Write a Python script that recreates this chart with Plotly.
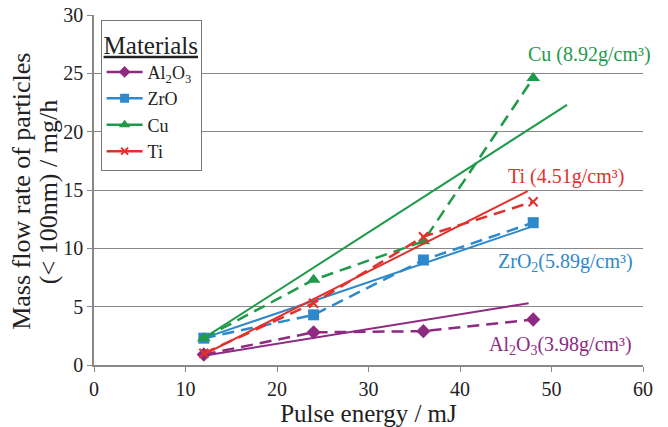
import plotly.graph_objects as go

energy = [12, 24, 36, 48]
al2o3 = [0.9, 2.8, 2.9, 3.9]
zro = [2.3, 4.3, 9.0, 12.2]
cu = [2.3, 7.3, 10.6, 24.6]
ti = [1.0, 5.3, 11.0, 14.0]

# straight trend lines (start / end points)
al2o3_fit_x = [12, 47.5]
al2o3_fit_y = [0.8, 5.3]
zro_fit_x = [12, 48]
zro_fit_y = [2.3, 11.9]
cu_fit_x = [12, 51.7]
cu_fit_y = [2.3, 22.3]
ti_fit_x = [12, 47.4]
ti_fit_y = [0.9, 14.9]

names = ["Al<sub>2</sub>O<sub>3</sub>", "ZrO", "Cu", "Ti"]
labels = ["Al<sub>2</sub>O<sub>3</sub>(3.98g/cm³)", "ZrO<sub>2</sub>(5.89g/cm³)",
          "Cu (8.92g/cm³)", "Ti (4.51g/cm³)"]
label_pos = [(51.0, 1.7), (51.5, 8.8), (54.2, 26.6), (51.6, 16.2)]
ytitle_lines = ["Mass flow rate of particles", "(< 100nm) / mg/h"]

colors = ["#8E2A82", "#2E88CC", "#1E9A4A", "#E0322C"]
symbols = ["diamond", "square", "triangle-up", "x-thin"]
sizes = [11, 11, 12, 9]

series = [al2o3, zro, cu, ti]
fits = [(al2o3_fit_x, al2o3_fit_y), (zro_fit_x, zro_fit_y),
        (cu_fit_x, cu_fit_y), (ti_fit_x, ti_fit_y)]

FONT = "Liberation Serif, Times New Roman, Times, serif"
fig = go.Figure()

for i in range(4):
    c = colors[i]
    fx, fy = fits[i]
    fig.add_trace(go.Scatter(x=fx, y=fy, mode="lines", showlegend=False,
                             line=dict(color=c, width=2)))
    mk = dict(color=c, symbol=symbols[i], size=sizes[i],
              line=dict(color=c, width=2 if symbols[i] == "x-thin" else 0))
    fig.add_trace(go.Scatter(x=energy, y=series[i], mode="lines+markers",
                             showlegend=False,
                             line=dict(color=c, width=2.5, dash="12px,7px"),
                             marker=mk))
    mk2 = dict(color=c, symbol=symbols[i], size=sizes[i] - 2,
               line=dict(color=c, width=2 if symbols[i] == "x-thin" else 0))
    fig.add_trace(go.Scatter(x=[None], y=[None], mode="lines+markers",
                             name=names[i], line=dict(color=c, width=2.5),
                             marker=mk2))

for i in range(4):
    fig.add_annotation(x=label_pos[i][0], y=label_pos[i][1], text=labels[i],
                       showarrow=False, xref="x", yref="y",
                       font=dict(family=FONT, size=20, color=colors[i]))

# y-axis title (two lines, rotated)
for xp, txt in zip([-0.131, -0.083], ytitle_lines):
    fig.add_annotation(x=xp, y=0.495, xref="paper", yref="paper",
                       text=txt, textangle=-90, showarrow=False,
                       xanchor="center", yanchor="middle",
                       font=dict(family=FONT, size=26, color="#222222"))

fig.update_layout(
    width=668, height=427,
    margin=dict(l=94, r=25, t=15, b=62, autoexpand=False),
    paper_bgcolor="white", plot_bgcolor="white",
    font=dict(family=FONT, color="#222222", size=20),
    legend=dict(x=0.012, y=0.985, xanchor="left", yanchor="top",
                bgcolor="white", bordercolor="#777777", borderwidth=1,
                font=dict(family=FONT, size=18, color="#222222"),
                title=dict(text="<u>Materials</u>",
                           font=dict(family=FONT, size=25, color="#222222")),
                tracegroupgap=0, itemwidth=36),
    xaxis=dict(range=[0, 60], tickvals=[0, 10, 20, 30, 40, 50, 60],
               showgrid=False, zeroline=False, showline=True, automargin=False,
               linecolor="#888888", linewidth=1.5, ticks="outside",
               tickcolor="#888888", ticklen=5,
               title=dict(text="Pulse energy / mJ",
                          font=dict(family=FONT, size=25), standoff=6),
               tickfont=dict(family=FONT, size=20)),
    yaxis=dict(range=[0, 30], tickvals=[0, 5, 10, 15, 20, 25, 30],
               showgrid=True, gridcolor="#888888", gridwidth=1, automargin=False,
               zeroline=False, showline=True, linecolor="#888888",
               linewidth=1.5, ticks="outside", tickcolor="#888888", ticklen=5,
               tickfont=dict(family=FONT, size=20)),
)

fig.write_html("out.html", config={"displayModeBar": False},
               post_script="document.body.style.margin='0px';document.body.style.overflow='hidden';")
